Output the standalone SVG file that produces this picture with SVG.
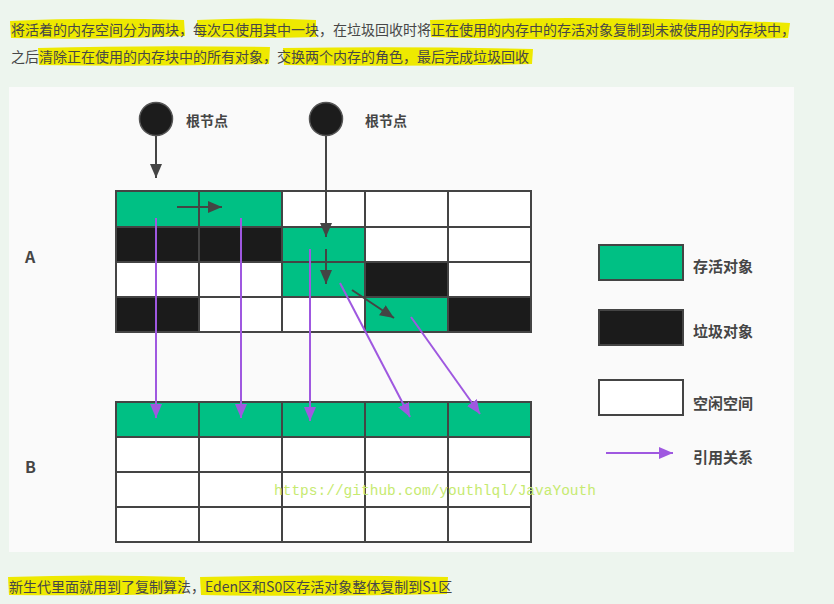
<svg xmlns="http://www.w3.org/2000/svg" width="834" height="604" viewBox="0 0 834 604">
  <defs>
    <style>
      .para { font-family: "Noto Sans CJK SC", "Liberation Sans", sans-serif; font-size: 14px; fill: #474747; }
      .hl { fill: #eee900; }
      .lbl { font-family: "Noto Sans CJK SC", "Liberation Sans", sans-serif; font-weight: bold; fill: #454545; }
      .cell { stroke: #444; stroke-width: 2; }
      .live { fill: #00c084; }
      .dead { fill: #1b1b1b; }
      .free { fill: #ffffff; }
      .ptr { stroke: #444; stroke-width: 2; fill: none; }
      .ref { stroke: #9f58e0; stroke-width: 2; fill: none; }
      .root { fill: #1c1c1c; stroke: #555; stroke-width: 1.5; }
      .wm { font-family: "Liberation Mono", "DejaVu Sans Mono", monospace; font-size: 14.5px; fill: #c6ea70; }
    </style>
    <marker id="headDark" markerUnits="userSpaceOnUse" markerWidth="14" markerHeight="12" refX="14" refY="6" orient="auto">
      <path d="M0,0 L14,6 L0,12 z" fill="#444"/>
    </marker>
    <marker id="headPurple" markerUnits="userSpaceOnUse" markerWidth="14" markerHeight="12" refX="14" refY="6" orient="auto">
      <path d="M0,0 L14,6 L0,12 z" fill="#9f58e0"/>
    </marker>
  </defs>

  <!-- page background -->
  <rect x="0" y="0" width="834" height="604" fill="#edf5ee"/>

  <!-- highlighter strokes behind the paragraph text -->
  <g id="highlights">
    <path class="hl" d="M10,21 Q90,17 184,20 L185,36 Q95,40 11,38 Z"/>
    <path class="hl" d="M197,20 Q260,17 316,20 L316,37 Q255,39 198,37 Z"/>
    <path class="hl" d="M430,20 Q610,15 790,23 L788,38 Q610,42 431,37 Z"/>
    <path class="hl" d="M38,48 Q150,45 270,47 L269,64 Q150,67 39,65 Z"/>
    <path class="hl" d="M283,48 Q410,46 533,49 L532,64 Q410,67 284,65 Z"/>
    <path class="hl" d="M8,577 Q95,574 185,577 L184,594 Q95,596 9,595 Z"/>
    <path class="hl" d="M200,577 Q325,574 448,577 L447,594 Q325,597 201,595 Z"/>
  </g>

  <g id="paragraph-top">
    <text class="para" x="11" y="35">将活着的内存空间分为两块，每次只使用其中一块，在垃圾回收时将正在使用的内存中的存活对象复制到未被使用的内存块中，</text>
    <text class="para" x="11" y="62">之后清除正在使用的内存块中的所有对象，交换两个内存的角色，最后完成垃圾回收</text>
  </g>

  <!-- figure panel -->
  <rect x="9" y="87" width="785" height="465" fill="#fafafa"/>

  <!-- region labels -->
  <g id="label-A"><text class="lbl" x="25" y="263" font-size="16">A</text></g>
  <g id="label-B"><text class="lbl" x="25" y="473" font-size="16">B</text></g>

  <!-- root nodes -->
  <g id="root-1">
    <circle class="root" cx="156" cy="119" r="16.5"/>
    <text class="lbl" x="186" y="126" font-size="14">根节点</text>
  </g>
  <g id="root-2">
    <circle class="root" cx="326" cy="119" r="16.5"/>
    <text class="lbl" x="365" y="126" font-size="14">根节点</text>
  </g>

  <!-- memory block A: 4 rows x 5 columns -->
  <g id="block-A">
    <rect class="cell live" x="116" y="191" width="83" height="36"/>
    <rect class="cell live" x="199" y="191" width="83" height="36"/>
    <rect class="cell free" x="282" y="191" width="83" height="36"/>
    <rect class="cell free" x="365" y="191" width="83" height="36"/>
    <rect class="cell free" x="448" y="191" width="83" height="36"/>

    <rect class="cell dead" x="116" y="227" width="83" height="35"/>
    <rect class="cell dead" x="199" y="227" width="83" height="35"/>
    <rect class="cell live" x="282" y="227" width="83" height="35"/>
    <rect class="cell free" x="365" y="227" width="83" height="35"/>
    <rect class="cell free" x="448" y="227" width="83" height="35"/>

    <rect class="cell free" x="116" y="262" width="83" height="35"/>
    <rect class="cell free" x="199" y="262" width="83" height="35"/>
    <rect class="cell live" x="282" y="262" width="83" height="35"/>
    <rect class="cell dead" x="365" y="262" width="83" height="35"/>
    <rect class="cell free" x="448" y="262" width="83" height="35"/>

    <rect class="cell dead" x="116" y="297" width="83" height="35"/>
    <rect class="cell free" x="199" y="297" width="83" height="35"/>
    <rect class="cell free" x="282" y="297" width="83" height="35"/>
    <rect class="cell live" x="365" y="297" width="83" height="35"/>
    <rect class="cell dead" x="448" y="297" width="83" height="35"/>
  </g>

  <!-- memory block B: copied survivors in the first row -->
  <g id="block-B">
    <rect class="cell live" x="116" y="402" width="83" height="35"/>
    <rect class="cell live" x="199" y="402" width="83" height="35"/>
    <rect class="cell live" x="282" y="402" width="83" height="35"/>
    <rect class="cell live" x="365" y="402" width="83" height="35"/>
    <rect class="cell live" x="448" y="402" width="83" height="35"/>

    <rect class="cell free" x="116" y="437" width="83" height="35"/>
    <rect class="cell free" x="199" y="437" width="83" height="35"/>
    <rect class="cell free" x="282" y="437" width="83" height="35"/>
    <rect class="cell free" x="365" y="437" width="83" height="35"/>
    <rect class="cell free" x="448" y="437" width="83" height="35"/>

    <rect class="cell free" x="116" y="472" width="83" height="35"/>
    <rect class="cell free" x="199" y="472" width="83" height="35"/>
    <rect class="cell free" x="282" y="472" width="83" height="35"/>
    <rect class="cell free" x="365" y="472" width="83" height="35"/>
    <rect class="cell free" x="448" y="472" width="83" height="35"/>

    <rect class="cell free" x="116" y="507" width="83" height="35"/>
    <rect class="cell free" x="199" y="507" width="83" height="35"/>
    <rect class="cell free" x="282" y="507" width="83" height="35"/>
    <rect class="cell free" x="365" y="507" width="83" height="35"/>
    <rect class="cell free" x="448" y="507" width="83" height="35"/>
  </g>

  <!-- pointers and copy references -->
  <g id="connectors">
    <line class="ptr" x1="156" y1="136" x2="156" y2="178" marker-end="url(#headDark)"/>
    <line class="ptr" x1="326" y1="136" x2="326" y2="237" marker-end="url(#headDark)"/>
    <line class="ptr" x1="177" y1="207" x2="222" y2="207" marker-end="url(#headDark)"/>
    <line class="ptr" x1="326" y1="249" x2="326" y2="284" marker-end="url(#headDark)"/>
    <line class="ptr" x1="352" y1="290" x2="394" y2="318" marker-end="url(#headDark)"/>

    <line class="ref" x1="156" y1="218" x2="156" y2="418" marker-end="url(#headPurple)"/>
    <line class="ref" x1="241" y1="218" x2="241" y2="418" marker-end="url(#headPurple)"/>
    <line class="ref" x1="310" y1="249" x2="310" y2="421" marker-end="url(#headPurple)"/>
    <line class="ref" x1="340" y1="283" x2="410" y2="417" marker-end="url(#headPurple)"/>
    <line class="ref" x1="411" y1="317" x2="480" y2="414" marker-end="url(#headPurple)"/>
  </g>

  <!-- legend -->
  <g id="legend-live">
    <rect class="cell live" x="599" y="245" width="84" height="35"/>
    <text class="lbl" x="693" y="272" font-size="15">存活对象</text>
  </g>
  <g id="legend-dead">
    <rect class="cell dead" x="599" y="310" width="84" height="35"/>
    <text class="lbl" x="693" y="337" font-size="15">垃圾对象</text>
  </g>
  <g id="legend-free">
    <rect class="cell free" x="599" y="380" width="84" height="35"/>
    <text class="lbl" x="693" y="409" font-size="15">空闲空间</text>
  </g>
  <g id="legend-ref">
    <line class="ref" x1="606" y1="453" x2="673" y2="453" marker-end="url(#headPurple)"/>
    <text class="lbl" x="693" y="463" font-size="15">引用关系</text>
  </g>

  <text class="wm" x="274" y="495">https://github.com/youthlql/JavaYouth</text>

  <g id="paragraph-bottom">
    <text class="para" x="9" y="592">新生代里面就用到了复制算法，Eden区和S0区存活对象整体复制到S1区</text>
  </g>
</svg>
